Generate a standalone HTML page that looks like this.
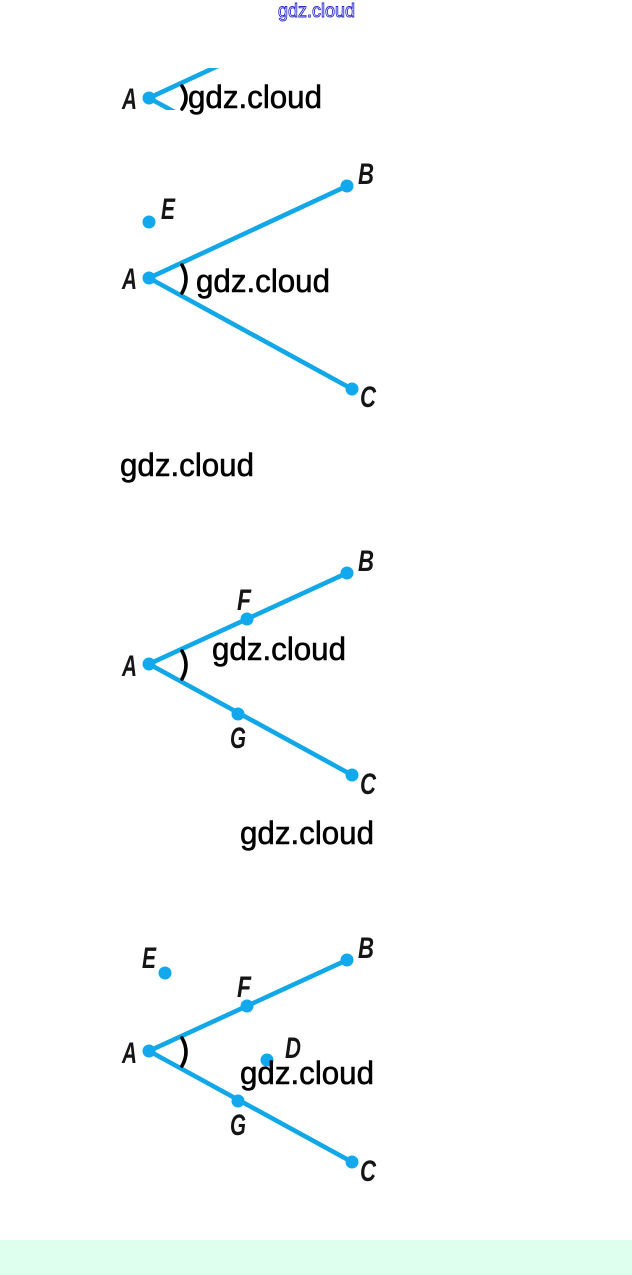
<!DOCTYPE html>
<html>
<head>
<meta charset="utf-8">
<style>
html,body{margin:0;padding:0;background:#fff;width:632px;height:1275px;overflow:hidden}
svg{display:block}
.l{font-family:"Liberation Sans",sans-serif;font-style:italic;font-weight:700;font-size:30px;fill:#151515;transform:translateY(1px)}
.w{font-family:"Liberation Sans",sans-serif;font-size:32px;fill:#000;stroke:#000;stroke-width:.6}
.r{stroke:#12a8e8;stroke-width:4.6;fill:none}
.p{fill:#12a8ee}
.a{stroke:#000;stroke-width:3.6;fill:none;stroke-linecap:round}
</style>
</head>
<body>
<svg width="632" height="1275" viewBox="0 0 632 1275" xmlns="http://www.w3.org/2000/svg">
<defs><clipPath id="c"><rect x="100" y="68" width="130" height="42"/></clipPath></defs>
<rect width="632" height="1275" fill="#fff"/>
<rect x="0" y="1240" width="632" height="35" fill="#dfffee"/>
<text x="278" y="17" font-family="Liberation Sans, sans-serif" font-size="19" fill="#fff" stroke="#2a2acc" stroke-width="0.9" textLength="77" lengthAdjust="spacingAndGlyphs">gdz.cloud</text>

<g clip-path="url(#c)">
<path class="r" d="M149 98L347 6M149 98L352 209"/>
</g>
<circle class="p" cx="149" cy="98" r="6.5"/>
<path class="a" d="M182 86Q190 98 182 109"/>
<text class="l" x="122" y="108" textLength="15" lengthAdjust="spacingAndGlyphs">A</text>
<text class="w" x="188" y="108" textLength="134" lengthAdjust="spacingAndGlyphs">gdz.cloud</text>

<path class="r" d="M149 278L347 186M149 278L352 389"/>
<circle class="p" cx="149" cy="278" r="6.5"/><circle class="p" cx="347" cy="186" r="6.5"/><circle class="p" cx="352" cy="389" r="6.5"/><circle class="p" cx="149" cy="222" r="6.5"/>
<path class="a" d="M182 265Q190 279 182 293"/>
<text class="l" x="122" y="288" textLength="15" lengthAdjust="spacingAndGlyphs">A</text>
<text class="l" x="358" y="183" textLength="16" lengthAdjust="spacingAndGlyphs">B</text>
<text class="l" x="360" y="406" textLength="16" lengthAdjust="spacingAndGlyphs">C</text>
<text class="l" x="161" y="218" textLength="14" lengthAdjust="spacingAndGlyphs">E</text>
<text class="w" x="196" y="292" textLength="134" lengthAdjust="spacingAndGlyphs">gdz.cloud</text>

<text class="w" x="120" y="476" textLength="134" lengthAdjust="spacingAndGlyphs">gdz.cloud</text>

<path class="r" d="M149 664L347 573M149 664L352 775"/>
<circle class="p" cx="149" cy="664" r="6.5"/><circle class="p" cx="347" cy="573" r="6.5"/><circle class="p" cx="352" cy="775" r="6.5"/><circle class="p" cx="247" cy="619" r="6.5"/><circle class="p" cx="238" cy="714" r="6.5"/>
<path class="a" d="M182 651Q190 665 182 679"/>
<text class="l" x="122" y="675" textLength="15" lengthAdjust="spacingAndGlyphs">A</text>
<text class="l" x="358" y="570" textLength="16" lengthAdjust="spacingAndGlyphs">B</text>
<text class="l" x="360" y="793" textLength="16" lengthAdjust="spacingAndGlyphs">C</text>
<text class="l" x="237" y="609" textLength="14" lengthAdjust="spacingAndGlyphs">F</text>
<text class="l" x="230" y="747" textLength="16" lengthAdjust="spacingAndGlyphs">G</text>
<text class="w" x="212" y="660" textLength="134" lengthAdjust="spacingAndGlyphs">gdz.cloud</text>

<text class="w" x="240" y="844" textLength="134" lengthAdjust="spacingAndGlyphs">gdz.cloud</text>

<path class="r" d="M149 1051L347 960M149 1051L352 1162"/>
<circle class="p" cx="149" cy="1051" r="6.5"/><circle class="p" cx="347" cy="960" r="6.5"/><circle class="p" cx="352" cy="1162" r="6.5"/><circle class="p" cx="247" cy="1006" r="6.5"/><circle class="p" cx="238" cy="1101" r="6.5"/><circle class="p" cx="165" cy="973" r="6.5"/><circle class="p" cx="267" cy="1060" r="6.5"/>
<path class="a" d="M182 1038Q190 1052 182 1066"/>
<text class="l" x="122" y="1062" textLength="15" lengthAdjust="spacingAndGlyphs">A</text>
<text class="l" x="358" y="957" textLength="16" lengthAdjust="spacingAndGlyphs">B</text>
<text class="l" x="360" y="1180" textLength="16" lengthAdjust="spacingAndGlyphs">C</text>
<text class="l" x="237" y="996" textLength="14" lengthAdjust="spacingAndGlyphs">F</text>
<text class="l" x="230" y="1134" textLength="16" lengthAdjust="spacingAndGlyphs">G</text>
<text class="l" x="142" y="967" textLength="14" lengthAdjust="spacingAndGlyphs">E</text>
<text class="l" x="285" y="1057" textLength="16" lengthAdjust="spacingAndGlyphs">D</text>
<text class="w" x="240" y="1084" textLength="134" lengthAdjust="spacingAndGlyphs">gdz.cloud</text>
</svg>
</body>
</html>
